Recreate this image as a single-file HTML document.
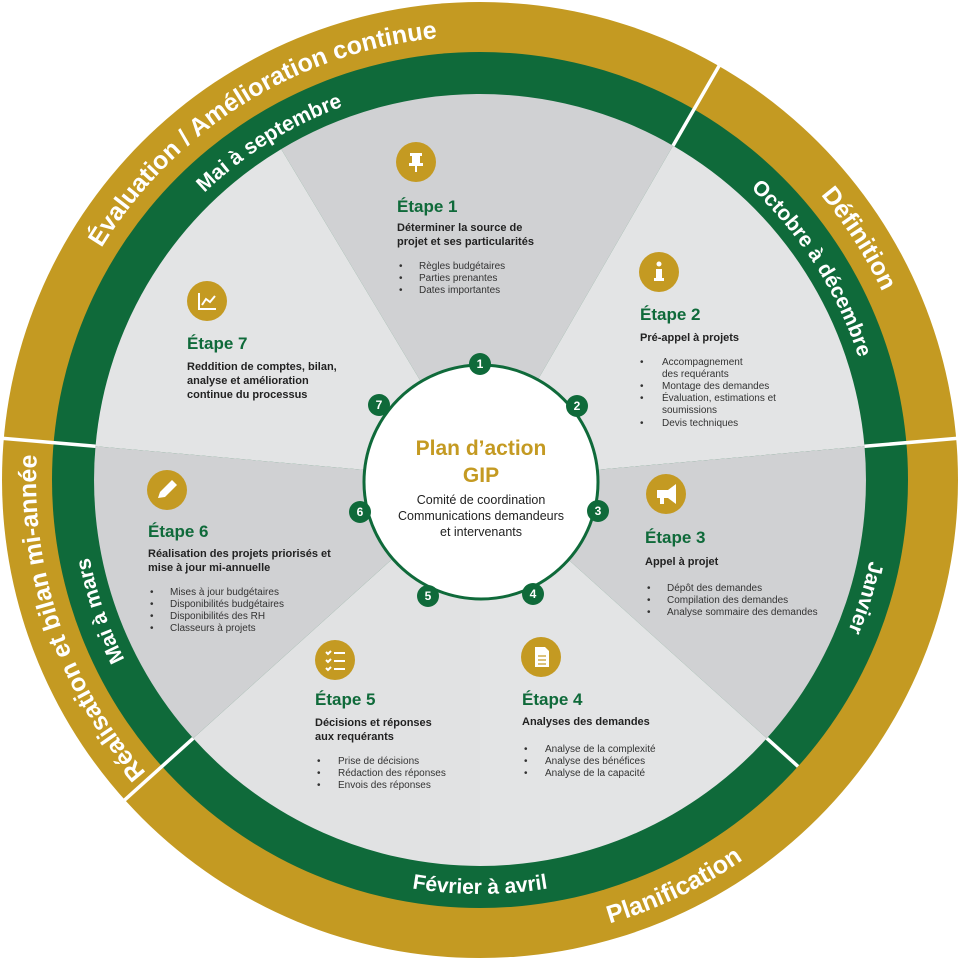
<!DOCTYPE html>
<html><head><meta charset="utf-8">
<style>
html,body{margin:0;padding:0;background:#fff;}
svg{display:block;}
text{font-family:"Liberation Sans",sans-serif;}
.ring{fill:#fff;font-weight:bold;}
.g{font-size:25px;}
.gr{font-size:21px;}
.t{fill:#0f6a3a;font-size:17px;font-weight:bold;}
.d{fill:#222;font-size:11px;font-weight:bold;}
.b{fill:#333;font-size:10px;}
</style></head>
<body>
<svg width="961" height="959" viewBox="0 0 961 959" xmlns="http://www.w3.org/2000/svg">
<defs>
<path id="p1" d="M68.3,646.3 A444,444 0 0 1 809.9,182.9"/>
<path id="p2" d="M111.0,629.1 A398,398 0 0 1 775.8,213.7"/>
<path id="p3" d="M310.1,69.8 A444,444 0 0 1 780.0,807.4"/>
<path id="p4" d="M327.7,112.3 A398,398 0 0 1 748.9,773.4"/>
<path id="p5" d="M660.7,125.4 A398,398 0 0 1 431.5,875.0"/>
<path id="p6" d="M72.3,551.9 A414,414 0 0 0 887.7,551.9"/>
<path id="p7" d="M63.0,678.9 A462,462 0 0 0 897.0,281.1"/>
<path id="p8" d="M549.4,918.5 A444,444 0 0 1 264.7,91.7"/>
<path id="p9" d="M542.2,873.1 A398,398 0 0 1 287.0,131.9"/>
</defs>
<circle cx="480" cy="480" r="478" fill="#c49a22"/>
<circle cx="480" cy="480" r="428" fill="#0f6a3a"/>
<!-- sectors -->
<path d="M480,480 L281.2,149.1 A386,386 0 0 1 673.0,145.7 Z" fill="#d0d1d3"/>
<path d="M480,480 L673.0,145.7 A386,386 0 0 1 864.5,446.3 Z" fill="#e3e4e5"/>
<path d="M480,480 L864.5,446.3 A386,386 0 0 1 766.8,738.3 Z" fill="#d0d1d3"/>
<path d="M480,480 L766.8,738.3 A386,386 0 0 1 480,866 Z" fill="#e3e4e5"/>
<path d="M480,480 L480,866 A386,386 0 0 1 193.2,738.3 Z" fill="#e1e2e3"/>
<path d="M480,480 L193.2,738.3 A386,386 0 0 1 95.5,446.3 Z" fill="#d0d1d3"/>
<path d="M480,480 L95.5,446.3 A386,386 0 0 1 281.2,149.1 Z" fill="#e3e4e5"/>
<!-- separators -->
<g stroke="#fff" stroke-width="3.5">
<line x1="673.0" y1="145.7" x2="720" y2="64.3"/>
<line x1="864.5" y1="446.3" x2="958.2" y2="438.2"/>
<line x1="193.2" y1="738.3" x2="123.3" y2="801.2"/>
<line x1="95.5" y1="446.3" x2="1.8" y2="438.2"/>
<line x1="766.8" y1="738.3" x2="798.0" y2="766.4"/>
</g>
<!-- ring labels -->
<text class="ring g"><textPath href="#p1" startOffset="50%" text-anchor="middle">Évaluation / Amélioration continue</textPath></text>
<text class="ring gr"><textPath href="#p2" startOffset="50%" text-anchor="middle">Mai à septembre</textPath></text>
<text class="ring g"><textPath href="#p3" startOffset="50%" text-anchor="middle">Définition</textPath></text>
<text class="ring gr"><textPath href="#p4" startOffset="50%" text-anchor="middle">Octobre à décembre</textPath></text>
<text class="ring gr"><textPath href="#p5" startOffset="50%" text-anchor="middle">Janvier</textPath></text>
<text class="ring gr"><textPath href="#p6" startOffset="50%" text-anchor="middle">Février à avril</textPath></text>
<text class="ring g"><textPath href="#p7" startOffset="50%" text-anchor="middle">Planification</textPath></text>
<text class="ring g"><textPath href="#p8" startOffset="50%" text-anchor="middle">Réalisation et bilan mi-année</textPath></text>
<text class="ring gr"><textPath href="#p9" startOffset="50%" text-anchor="middle">Mai à mars</textPath></text>

<!-- center -->
<circle cx="481" cy="482" r="117" fill="#fff" stroke="#0f6a3a" stroke-width="3"/>
<text x="481" y="455" text-anchor="middle" fill="#c49a22" font-size="21" font-weight="bold">Plan d’action</text>
<text x="481" y="482" text-anchor="middle" fill="#c49a22" font-size="21" font-weight="bold">GIP</text>
<text x="481" y="504" text-anchor="middle" fill="#222" font-size="12.5">Comité de coordination</text>
<text x="481" y="520" text-anchor="middle" fill="#222" font-size="12.5">Communications demandeurs</text>
<text x="481" y="536" text-anchor="middle" fill="#222" font-size="12.5">et intervenants</text>
<g fill="#0f6a3a">
<circle cx="480" cy="364" r="11"/><circle cx="577" cy="406" r="11"/><circle cx="598" cy="511" r="11"/>
<circle cx="533" cy="594" r="11"/><circle cx="428" cy="596" r="11"/><circle cx="360" cy="512" r="11"/><circle cx="379" cy="405" r="11"/>
</g>
<g fill="#fff" font-size="12" font-weight="bold" text-anchor="middle">
<text x="480" y="368">1</text><text x="577" y="410">2</text><text x="598" y="515">3</text>
<text x="533" y="598">4</text><text x="428" y="600">5</text><text x="360" y="516">6</text><text x="379" y="409">7</text>
</g>

<!-- icons -->
<g fill="#c49a22">
<circle cx="416" cy="162" r="20"/><circle cx="659" cy="272" r="20"/><circle cx="666" cy="494" r="20"/>
<circle cx="541" cy="657" r="20"/><circle cx="335" cy="660" r="20"/><circle cx="167" cy="490" r="20"/><circle cx="207" cy="301" r="20"/>
</g>
<g fill="#fff" stroke="none">
<!-- pin -->
<rect x="410" y="153" width="12" height="3"/><rect x="412" y="156" width="8" height="7"/><rect x="409" y="163" width="14" height="3"/><rect x="415" y="166" width="2" height="6"/>
<!-- info -->
<circle cx="659" cy="264" r="2.5"/><rect x="656" y="269" width="6" height="11"/><rect x="654" y="278" width="10" height="3"/>
<!-- megaphone -->
<path d="M657,490 L668,490 L676,484 L676,504 L668,498 L657,498 Z"/><rect x="660" y="498" width="4" height="6"/>
<!-- document -->
<path d="M535,647 L545,647 L549,651 L549,667 L535,667 Z"/>
<!-- pencil -->
<path d="M158,498 L160,492 L172,480 L177,485 L165,497 Z"/>
</g>
<g stroke="#c49a22" stroke-width="1.2">
<line x1="538" y1="656" x2="546" y2="656"/><line x1="538" y1="660" x2="546" y2="660"/><line x1="538" y1="664" x2="546" y2="664"/>
</g>
<!-- checklist -->
<g stroke="#fff" stroke-width="2" fill="none">
<path d="M326,652 l2,2 l3,-3"/><path d="M326,660 l2,2 l3,-3"/><path d="M326,668 l2,2 l3,-3"/>
<line x1="334" y1="653" x2="345" y2="653"/><line x1="334" y1="661" x2="345" y2="661"/><line x1="334" y1="669" x2="345" y2="669"/>
<!-- chart -->
<path d="M199,293 L199,309 L216,309"/><path d="M202,305 L206,299 L210,302 L215,296"/>
</g>

<!-- Étape 1 -->
<text class="t" x="397" y="212">Étape 1</text>
<text class="d" x="397" y="231">Déterminer la source de</text>
<text class="d" x="397" y="245">projet et ses particularités</text>
<g class="b"><text x="399" y="269">•</text><text x="419" y="269">Règles budgétaires</text>
<text x="399" y="281">•</text><text x="419" y="281">Parties prenantes</text>
<text x="399" y="293">•</text><text x="419" y="293">Dates importantes</text></g>

<!-- Étape 2 -->
<text class="t" x="640" y="320">Étape 2</text>
<text class="d" x="640" y="341">Pré-appel à projets</text>
<g class="b"><text x="640" y="365">•</text><text x="662" y="365">Accompagnement</text>
<text x="662" y="377">des requérants</text>
<text x="640" y="389">•</text><text x="662" y="389">Montage des demandes</text>
<text x="640" y="401">•</text><text x="662" y="401">Évaluation, estimations et</text>
<text x="662" y="413">soumissions</text>
<text x="640" y="426">•</text><text x="662" y="426">Devis techniques</text></g>

<!-- Étape 3 -->
<text class="t" x="645" y="543">Étape 3</text>
<text class="d" x="645" y="565">Appel à projet</text>
<g class="b"><text x="647" y="591">•</text><text x="667" y="591">Dépôt des demandes</text>
<text x="647" y="603">•</text><text x="667" y="603">Compilation des demandes</text>
<text x="647" y="615">•</text><text x="667" y="615">Analyse sommaire des demandes</text></g>

<!-- Étape 4 -->
<text class="t" x="522" y="705">Étape 4</text>
<text class="d" x="522" y="725">Analyses des demandes</text>
<g class="b"><text x="524" y="752">•</text><text x="545" y="752">Analyse de la complexité</text>
<text x="524" y="764">•</text><text x="545" y="764">Analyse des bénéfices</text>
<text x="524" y="776">•</text><text x="545" y="776">Analyse de la capacité</text></g>

<!-- Étape 5 -->
<text class="t" x="315" y="705">Étape 5</text>
<text class="d" x="315" y="726">Décisions et réponses</text>
<text class="d" x="315" y="740">aux requérants</text>
<g class="b"><text x="317" y="764">•</text><text x="338" y="764">Prise de décisions</text>
<text x="317" y="776">•</text><text x="338" y="776">Rédaction des réponses</text>
<text x="317" y="788">•</text><text x="338" y="788">Envois des réponses</text></g>

<!-- Étape 6 -->
<text class="t" x="148" y="537">Étape 6</text>
<text class="d" x="148" y="557">Réalisation des projets priorisés et</text>
<text class="d" x="148" y="571">mise à jour mi-annuelle</text>
<g class="b"><text x="150" y="595">•</text><text x="170" y="595">Mises à jour budgétaires</text>
<text x="150" y="607">•</text><text x="170" y="607">Disponibilités budgétaires</text>
<text x="150" y="619">•</text><text x="170" y="619">Disponibilités des RH</text>
<text x="150" y="631">•</text><text x="170" y="631">Classeurs à projets</text></g>

<!-- Étape 7 -->
<text class="t" x="187" y="349">Étape 7</text>
<text class="d" x="187" y="370">Reddition de comptes, bilan,</text>
<text class="d" x="187" y="384">analyse et amélioration</text>
<text class="d" x="187" y="398">continue du processus</text>
</svg>
</body></html>
